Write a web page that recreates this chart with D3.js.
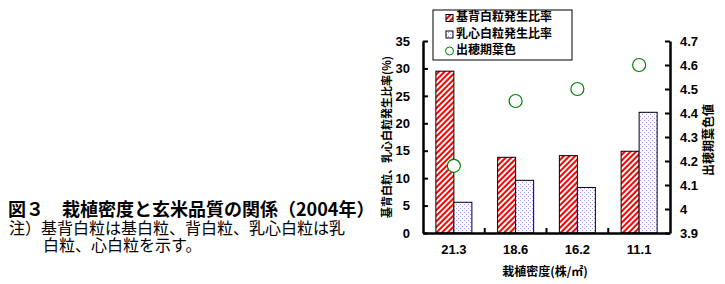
<!DOCTYPE html>
<html lang="ja">
<head>
<meta charset="UTF-8">
<title>図3 栽植密度と玄米品質の関係</title>
<script src="https://cdn.jsdelivr.net/npm/d3@7"></script>
<style>
  body { margin:0; background:#fff; }
  svg text { font-family: "Liberation Sans", Arial, sans-serif; }
  .jp { font-family: "Noto Sans CJK JP", sans-serif; }
</style>
</head>
<body>
<script>
// data
var categories = ["21.3", "18.6", "16.2", "11.1"];
var kihaku = [29.5, 13.8, 14.1, 14.9];      // 基背白粒発生比率
var nyushin = [5.6, 9.6, 8.3, 22.0];        // 乳心白粒発生比率
var yoshoku = [4.18, 4.45, 4.5, 4.6];       // 出穂期葉色
var leftTicks = [0, 5, 10, 15, 20, 25, 30, 35];
var rightTicks = [3.9, 4, 4.1, 4.2, 4.3, 4.4, 4.5, 4.6, 4.7];

var w = 725, h = 284;
var x0 = 423, x1 = 670, yTop = 41, yBot = 233;

var svg = d3.select("body").append("svg").attr("width", w).attr("height", h);

var defs = svg.append("defs");
var hatch = defs.append("pattern").attr("id", "hatch")
  .attr("patternUnits", "userSpaceOnUse").attr("width", 4).attr("height", 4)
  .attr("patternTransform", "rotate(45)");
hatch.append("rect").attr("width", 4).attr("height", 4).attr("fill", "#fff");
hatch.append("rect").attr("width", 2).attr("height", 4).attr("fill", "#ff0000");

var dots = defs.append("pattern").attr("id", "dots")
  .attr("patternUnits", "userSpaceOnUse").attr("width", 4).attr("height", 4);
dots.append("rect").attr("width", 4).attr("height", 4).attr("fill", "#fff");
dots.append("rect").attr("width", 1).attr("height", 1).attr("fill", "#9999ff");
dots.append("rect").attr("x", 2).attr("y", 2).attr("width", 1).attr("height", 1).attr("fill", "#9999ff");

var xScale = d3.scaleBand().domain(categories).range([x0, x1]);
var yL = d3.scaleLinear().domain([0, 35]).range([yBot, yTop]);
var yR = d3.scaleLinear().domain([3.9, 4.7]).range([yBot, yTop]);
var bw = 18;

// bars
svg.selectAll(".bar1").data(kihaku).enter().append("rect")
  .attr("x", function(d, i) { return xScale(categories[i]) + xScale.bandwidth() / 2 - bw; })
  .attr("y", function(d) { return yL(d); })
  .attr("width", bw)
  .attr("height", function(d) { return yBot - yL(d); })
  .attr("fill", "url(#hatch)").attr("stroke", "#000").attr("stroke-width", 1);

svg.selectAll(".bar2").data(nyushin).enter().append("rect")
  .attr("x", function(d, i) { return xScale(categories[i]) + xScale.bandwidth() / 2; })
  .attr("y", function(d) { return yL(d); })
  .attr("width", bw)
  .attr("height", function(d) { return yBot - yL(d); })
  .attr("fill", "url(#dots)").attr("stroke", "#000").attr("stroke-width", 1);

// circles
svg.selectAll(".pt").data(yoshoku).enter().append("circle")
  .attr("cx", function(d, i) { return xScale(categories[i]) + xScale.bandwidth() / 2; })
  .attr("cy", function(d) { return yR(d); })
  .attr("r", 6.5)
  .attr("fill", "#fff").attr("stroke", "#008000").attr("stroke-width", 1.2);

// axes
var axL = svg.append("g").attr("transform", "translate(" + x0 + ",0)")
  .call(d3.axisLeft(yL).tickValues(leftTicks).tickSizeInner(-5).tickSizeOuter(0).tickPadding(13));
var axR = svg.append("g").attr("transform", "translate(" + x1 + ",0)")
  .call(d3.axisRight(yR).tickValues(rightTicks).tickFormat(function(d) { return String(+d.toFixed(1)); })
    .tickSizeInner(-5).tickSizeOuter(0).tickPadding(10));
var axB = svg.append("g").attr("transform", "translate(0," + yBot + ")")
  .call(d3.axisBottom(xScale).tickSize(0).tickPadding(12));

[axL, axR, axB].forEach(function(a) {
  a.select(".domain").attr("stroke", "#000").attr("stroke-width", 2.5);
  a.selectAll(".tick line").attr("stroke", "#000").attr("stroke-width", 2);
  a.selectAll("text").attr("font-size", 13).attr("font-weight", "bold").attr("fill", "#000")
    .attr("font-family", "Liberation Sans, Arial, sans-serif");
});

// category boundary ticks on bottom axis
svg.selectAll(".btick").data(categories.slice(1)).enter().append("line")
  .attr("x1", function(d) { return xScale(d); }).attr("x2", function(d) { return xScale(d); })
  .attr("y1", yBot).attr("y2", yBot - 5)
  .attr("stroke", "#000").attr("stroke-width", 2);

// axis titles
svg.append("text").attr("class", "jp")
  .attr("transform", "translate(388," + (yTop + yBot) / 2 + ") rotate(-90)")
  .attr("text-anchor", "middle").attr("dominant-baseline", "middle")
  .attr("font-size", 11).attr("font-weight", "bold")
  .text("基背白粒、乳心白粒発生比率(%)");

svg.append("text").attr("class", "jp")
  .attr("transform", "translate(710,140) rotate(-90)")
  .attr("text-anchor", "middle").attr("dominant-baseline", "middle")
  .attr("font-size", 12).attr("font-weight", "bold")
  .text("出穂期葉色値");

svg.append("text").attr("class", "jp")
  .attr("x", 545).attr("y", 273)
  .attr("text-anchor", "middle").attr("dominant-baseline", "middle")
  .attr("font-size", 12).attr("font-weight", "bold")
  .text("栽植密度(株/㎡)");

// legend
var lg = svg.append("g");
lg.append("rect").attr("x", 433).attr("y", 10).attr("width", 139).attr("height", 50)
  .attr("fill", "#fff").attr("stroke", "#000").attr("stroke-width", 1);
var legendNames = ["基背白粒発生比率", "乳心白粒発生比率", "出穂期葉色"];
legendNames.forEach(function(name, i) {
  var cy = 18 + i * 16.5;
  if (i < 2) {
    lg.append("rect").attr("x", 446).attr("y", cy - 3.5).attr("width", 7).attr("height", 7)
      .attr("fill", i == 0 ? "url(#hatch)" : "url(#dots)").attr("stroke", "#000").attr("stroke-width", 1);
  } else {
    lg.append("circle").attr("cx", 449.5).attr("cy", cy).attr("r", 4)
      .attr("fill", "#fff").attr("stroke", "#008000").attr("stroke-width", 1);
  }
  lg.append("text").attr("class", "jp").attr("x", 456).attr("y", cy)
    .attr("dominant-baseline", "middle").attr("font-size", 12).attr("font-weight", "bold")
    .text(name);
});

// caption (one text block, three lines)
var cap = svg.append("text").attr("class", "jp");
cap.append("tspan").attr("x", 8).attr("y", 216)
  .attr("font-size", 18).attr("font-weight", "bold")
  .text("図３　栽植密度と玄米品質の関係（2004年）");
cap.append("tspan").attr("x", 9).attr("y", 234)
  .attr("font-size", 16)
  .text("注）基背白粒は基白粒、背白粒、乳心白粒は乳");
cap.append("tspan").attr("x", 43).attr("y", 251)
  .attr("font-size", 16)
  .text("白粒、心白粒を示す。");
</script>
</body>
</html>
